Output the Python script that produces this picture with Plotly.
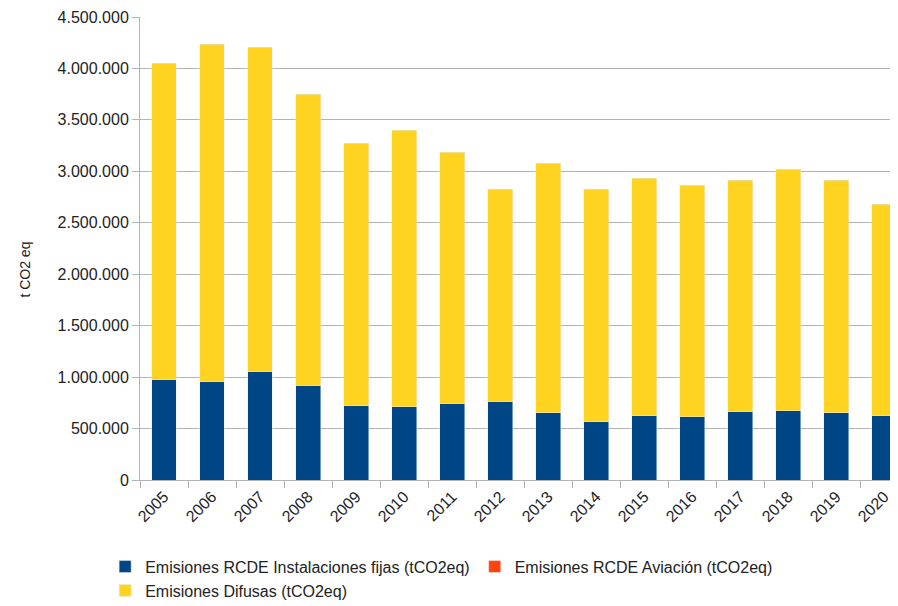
import plotly.graph_objects as go

# datos (t CO2 eq)
years = [str(y) for y in range(2005, 2021)]
rcde_fijas = [974000, 954000, 1051000, 915000, 721000, 711000, 741000, 760000,
              653000, 566000, 624000, 614000, 663000, 673000, 653000, 624000]
rcde_aviacion = [0] * 16
totales = [4051000, 4235000, 4206000, 3750000, 3274000, 3400000, 3187000, 2828000,
           3080000, 2828000, 2934000, 2866000, 2915000, 3022000, 2915000, 2682000]
difusas = [t - f - a for t, f, a in zip(totales, rcde_fijas, rcde_aviacion)]

fig = go.Figure()
fig.add_trace(go.Bar(x=years, y=rcde_fijas, name='Emisiones RCDE Instalaciones fijas (tCO2eq)',
                     marker_color='#004586'))
fig.add_trace(go.Bar(x=years, y=rcde_aviacion, name='Emisiones RCDE Aviación (tCO2eq)',
                     marker_color='#ff420e'))
fig.add_trace(go.Bar(x=years, y=difusas, name='Emisiones Difusas (tCO2eq)',
                     marker_color='#ffd320'))

# la pagina tiene 8px de margen en el body -> figura de 890x598
fig.update_layout(
    barmode='stack',
    bargap=0.48,
    width=890, height=598,
    margin=dict(l=132, r=0, t=9, b=126, autoexpand=False),
    paper_bgcolor='white',
    plot_bgcolor='white',
    separators=',.',
    font=dict(family='Liberation Sans, Arial, sans-serif', size=16, color='#222'),
    legend=dict(orientation='h', x=-0.046, y=-0.1505, xanchor='left', yanchor='top',
                traceorder='normal', font=dict(size=16), itemwidth=30,
                tracegroupgap=0),
    showlegend=True,
)

fig.update_xaxes(
    type='category',
    range=[-0.5, 15.29],
    tickangle=-45,
    tickson='boundaries',
    ticks='outside', ticklen=7, tickcolor='#b3b3b3',
    showline=True, linecolor='#b3b3b3', linewidth=1,
    showgrid=False,
)
fig.update_yaxes(
    range=[0, 4500000],
    dtick=500000,
    tickformat=',d',
    ticks='outside', ticklen=7, tickcolor='#b3b3b3',
    showline=True, linecolor='#b3b3b3', linewidth=1,
    showgrid=True, gridcolor='#b3b3b3', gridwidth=1,
    zeroline=False,
)

fig.add_annotation(text='t CO2 eq', textangle=-90, xref='paper', yref='paper',
                   x=-0.152, y=0.454, xanchor='center', yanchor='middle',
                   showarrow=False, font=dict(size=14))

fig.write_html("out.html")
